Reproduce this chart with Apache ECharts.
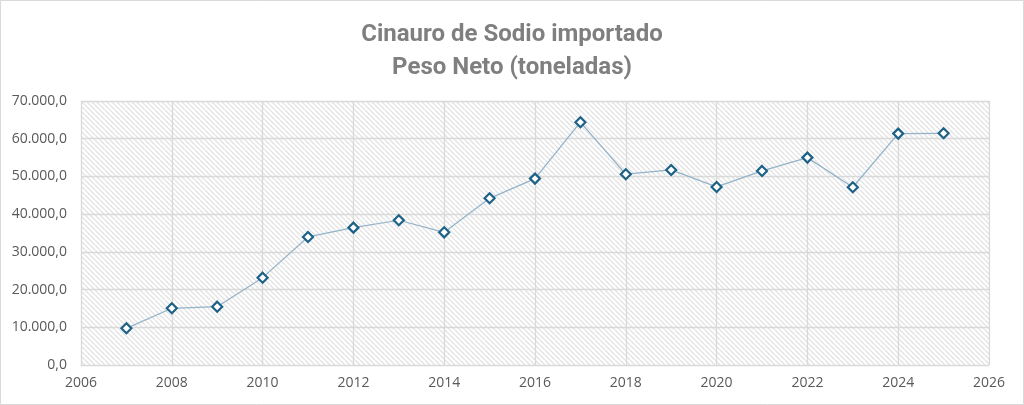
<!DOCTYPE html>
<html>
<head>
<meta charset="utf-8">
<script src="https://cdn.jsdelivr.net/npm/echarts@6/dist/echarts.min.js"></script>
<style>
html,body{margin:0;padding:0;background:#fff;}
#c{width:1024px;height:405px;}
</style>
</head>
<body>
<div id="c"></div>
<script>
const titleLines = ['Cinauro de Sodio importado', 'Peso Neto (toneladas)'];
const years = [2007,2008,2009,2010,2011,2012,2013,2014,2015,2016,2017,2018,2019,2020,2021,2022,2023,2024,2025];
const values = [9730,15040,15470,23160,33950,36420,38380,35180,44200,49420,64380,50580,51720,47210,51460,54990,47130,61350,61440];
const xMin = 2006, xMax = 2026, xStep = 2;
const yMin = 0, yMax = 70000, yStep = 10000;

function fmt(v){
  const s = Math.round(v).toString().replace(/\B(?=(\d{3})+(?!\d))/g, '.');
  return s + ',0';
}

// hatch pattern
const T = 5;
const tile = document.createElement('canvas');
tile.width = T; tile.height = T;
const g = tile.getContext('2d');
g.fillStyle = '#ffffff';
g.fillRect(0,0,T,T);
g.strokeStyle = '#e3e3e3';
g.lineWidth = 1.4;
for (let c = -T; c <= T; c += T) {
  g.beginPath();
  g.moveTo(c, 0);
  g.lineTo(c + T, T);
  g.stroke();
}

const chart = echarts.init(document.getElementById('c'), null, {renderer:'canvas'});
chart.setOption({
  backgroundColor: '#ffffff',
  animation: false,
  title: {
    text: titleLines.join('\n'),
    left: 'center',
    top: 13,
    textStyle: {
      fontFamily: '"Liberation Sans Narrow", "Roboto", sans-serif',
      fontWeight: 'bold',
      fontSize: 24,
      color: '#7f7f7f',
      lineHeight: 33
    }
  },
  graphic: [{
    type: 'rect',
    shape: {x: 0.5, y: 0.5, width: 1023, height: 404},
    style: {fill: 'none', stroke: '#d9d9d9', lineWidth: 1},
    silent: true
  }],
  grid: {
    left: 81, right: 35, top: 101, bottom: 40,
    show: true,
    backgroundColor: {image: tile, repeat: 'repeat'},
    borderWidth: 0
  },
  xAxis: {
    type: 'value',
    min: xMin, max: xMax, interval: xStep,
    axisLine: {show: true, lineStyle: {color: '#d9d9d9', width: 1}},
    axisTick: {show: false},
    splitLine: {show: true, lineStyle: {color: '#d9d9d9', width: 1.3}},
    axisLabel: {
      color: '#595959', fontSize: 14, margin: 11,
      fontFamily: '"Open Sans", sans-serif',
      formatter: v => String(v)
    }
  },
  yAxis: {
    type: 'value',
    min: yMin, max: yMax, interval: yStep,
    axisLine: {show: false},
    axisTick: {show: false},
    splitLine: {show: true, lineStyle: {color: '#d9d9d9', width: 1.3}},
    axisLabel: {
      color: '#595959', fontSize: 14, margin: 14,
      fontFamily: '"Open Sans", sans-serif',
      formatter: v => fmt(v)
    }
  },
  series: [{
    type: 'line',
    data: years.map((y, i) => [y, values[i]]),
    symbol: 'diamond',
    symbolSize: 10,
    showAllSymbol: true,
    lineStyle: {color: '#92b3c9', width: 1.25},
    itemStyle: {color: '#ffffff', borderColor: '#1e6187', borderWidth: 2.2},
    z: 3
  }]
});
</script>
</body>
</html>
